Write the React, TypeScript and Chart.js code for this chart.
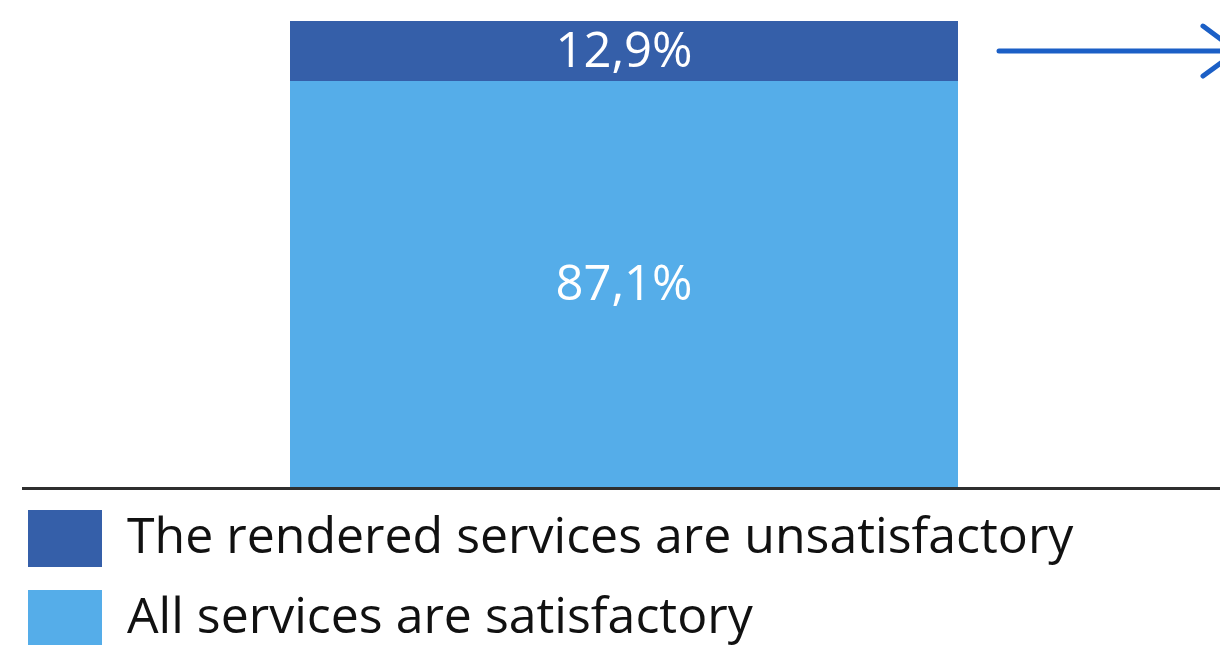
import React, { useEffect, useRef } from 'react';
import { Chart, registerables } from 'chart.js';

Chart.register(...registerables);

const categories = ['Respondents'];
const satisfiedValues = [87.1];
const unsatisfiedValues = [12.9];
const seriesLabels = ['All services are satisfactory', 'The rendered services are unsatisfactory'];
const seriesColors = ['#55ADE9', '#355FA9'];

const CANVAS_W = 1220;
const CANVAS_H = 657;
const FONT = '"Open Sans", Lato, sans-serif';

const fmt = (v: number) => v.toFixed(1).replace('.', ',') + '%';

const valueLabels = {
  id: 'valueLabels',
  afterDatasetsDraw(chart: any) {
    const ctx = chart.ctx;
    ctx.save();
    ctx.font = `49px ${FONT}`;
    ctx.fillStyle = '#ffffff';
    ctx.textAlign = 'center';
    ctx.textBaseline = 'middle';
    chart.data.datasets.forEach((ds: any, i: number) => {
      const meta = chart.getDatasetMeta(i);
      meta.data.forEach((el: any, j: number) => {
        const { x, y, base } = el.getProps(['x', 'y', 'base'], true);
        ctx.fillText(fmt(ds.data[j]), x, (y + base) / 2 + 2);
      });
    });
    ctx.restore();
  },
};

const decorations = {
  id: 'decorations',
  afterDraw(chart: any) {
    const ctx = chart.ctx;
    const area = chart.chartArea;
    ctx.save();
    // baseline
    ctx.strokeStyle = '#2f2f2f';
    ctx.lineWidth = 3;
    ctx.beginPath();
    ctx.moveTo(22, area.bottom + 1.5);
    ctx.lineTo(chart.width, area.bottom + 1.5);
    ctx.stroke();
    // arrow pointing right, at middle of top segment
    const topMeta = chart.getDatasetMeta(1);
    const el = topMeta.data[0];
    if (el) {
      const { x, y, base, width } = el.getProps(['x', 'y', 'base', 'width'], true);
      const ay = (y + base) / 2;
      const x0 = x + width / 2 + 41;
      const tip = chart.width + 17;
      ctx.strokeStyle = '#1B5FC6';
      ctx.lineWidth = 5;
      ctx.lineCap = 'round';
      ctx.beginPath();
      ctx.moveTo(x0, ay);
      ctx.lineTo(chart.width + 5, ay);
      ctx.stroke();
      ctx.beginPath();
      ctx.moveTo(tip - 34, ay - 25);
      ctx.lineTo(tip, ay);
      ctx.lineTo(tip - 34, ay + 25);
      ctx.stroke();
    }
    ctx.restore();
  },
};

export default function App() {
  const ref = useRef<HTMLCanvasElement>(null);

  useEffect(() => {
    if (!ref.current) return;
    const chart = new Chart(ref.current, {
      type: 'bar',
      data: {
        labels: categories,
        datasets: [
          {
            label: seriesLabels[0],
            data: satisfiedValues,
            backgroundColor: seriesColors[0],
            borderWidth: 0,
          },
          {
            label: seriesLabels[1],
            data: unsatisfiedValues,
            backgroundColor: seriesColors[1],
            borderWidth: 0,
          },
        ],
      },
      options: {
        responsive: false,
        animation: false,
        maintainAspectRatio: false,
        datasets: {
          bar: {
            categoryPercentage: 1,
            barPercentage: 668 / 1192,
          },
        },
        layout: { padding: { left: 5, right: 0, top: 21, bottom: 0 } },
        scales: {
          x: {
            stacked: true,
            display: false,
          },
          y: {
            stacked: true,
            min: 0,
            max: 100,
            display: true,
            ticks: { display: false },
            grid: { display: false },
            border: { display: false },
            afterFit: (scale: any) => {
              scale.width = 23;
            },
          },
        },
        plugins: {
          tooltip: { enabled: false },
          legend: {
            position: 'bottom',
            align: 'start',
            reverse: true,
            labels: {
              boxWidth: 74,
              boxHeight: 57,
              padding: 23,
              color: '#111111',
              font: { family: FONT, size: 50 },
            },
          },
        },
      },
      plugins: [valueLabels, decorations],
    });
    return () => chart.destroy();
  }, []);

  return (
    <div
      style={{
        position: 'fixed',
        left: 0,
        top: 0,
        width: 1220,
        height: 645,
        overflow: 'hidden',
        background: '#ffffff',
      }}
    >
      <canvas ref={ref} width={CANVAS_W} height={CANVAS_H} style={{ display: 'block' }} />
    </div>
  );
}
